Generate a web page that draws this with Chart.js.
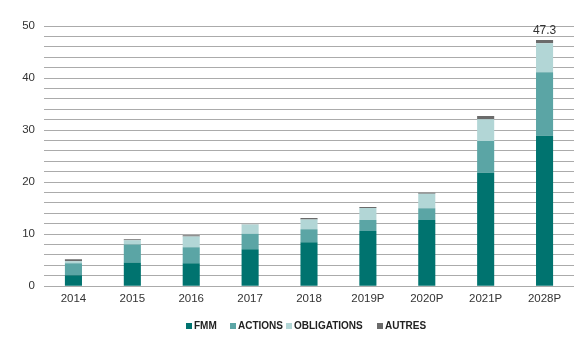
<!DOCTYPE html>
<html>
<head>
<meta charset="utf-8">
<script src="https://cdn.jsdelivr.net/npm/chart.js@4"></script>
<style>
  html, body { margin: 0; padding: 0; background: #fff; }
  #wrap { width: 579px; height: 339px; }
</style>
</head>
<body>
<div id="wrap"><canvas id="chart"></canvas></div>
<script>
const categories = ['2014', '2015', '2016', '2017', '2018', '2019P', '2020P', '2021P', '2028P'];
const fmm = [2.1, 4.55, 4.4, 7.1, 8.45, 10.6, 12.7, 21.8, 28.9];
const actions = [2.3, 3.45, 3.1, 3.0, 2.5, 2.1, 2.3, 6.1, 12.2];
const obligations = [0.4, 0.85, 2.05, 1.75, 1.85, 2.35, 2.75, 4.2, 5.6];
const autres = [0.4, 0.15, 0.25, 0.05, 0.3, 0.15, 0.2, 0.6, 0.6];
// only the last bar carries its total
const labelledIndex = 8;

const FONT = "'Liberation Sans', Arial, sans-serif";

// legend entries sit at fixed x positions under the plot
const legendX = [186, 230, 286, 377];
const legendY = 326;

const totalLabel = {
  id: 'totalLabel',
  afterDatasetsDraw(chart) {
    const { ctx } = chart;
    const total = chart.data.datasets.reduce((s, d) => s + d.data[labelledIndex], 0);
    const meta = chart.getDatasetMeta(chart.data.datasets.length - 1);
    const bar = meta.data[labelledIndex];
    ctx.save();
    ctx.font = `12px ${FONT}`;
    ctx.fillStyle = '#333';
    ctx.textAlign = 'center';
    ctx.textBaseline = 'bottom';
    ctx.fillText(total.toFixed(1), bar.x, bar.y - 3);
    ctx.restore();
  }
};

const fixedLegend = {
  id: 'fixedLegend',
  afterDraw(chart) {
    const { ctx } = chart;
    ctx.save();
    ctx.font = `bold 10px ${FONT}`;
    ctx.textBaseline = 'middle';
    chart.data.datasets.forEach((d, i) => {
      const x = legendX[i];
      ctx.fillStyle = d.backgroundColor;
      ctx.fillRect(x, legendY - 3, 6, 6);
      ctx.fillStyle = '#222';
      ctx.fillText(d.label, x + 8, legendY);
    });
    ctx.restore();
  }
};

const ds = (label, data, color) => ({
  label, data, backgroundColor: color, borderWidth: 0,
  barPercentage: 0.29, categoryPercentage: 1
});

new Chart(document.getElementById('chart'), {
  type: 'bar',
  data: {
    labels: categories,
    datasets: [
      ds('FMM', fmm, '#00736f'),
      ds('ACTIONS', actions, '#5ba5a5'),
      ds('OBLIGATIONS', obligations, '#b2d6d6'),
      ds('AUTRES', autres, '#6b6b6b')
    ]
  },
  options: {
    responsive: true,
    maintainAspectRatio: false,
    animation: false,
    layout: { padding: { top: 26, right: 5, left: 0, bottom: 27 } },
    plugins: {
      tooltip: { enabled: false },
      legend: { display: false }
    },
    scales: {
      x: {
        stacked: true,
        grid: { display: false, drawTicks: false },
        border: { display: false },
        ticks: { color: '#333', font: { family: FONT, size: 11.5 }, padding: 6 }
      },
      y: {
        stacked: true,
        min: 0, max: 50,
        afterFit(scale) { scale.width = 44; },
        border: { display: false },
        grid: { color: '#ababab', lineWidth: 1, drawTicks: false },
        ticks: {
          stepSize: 2,
          autoSkip: false,
          color: '#333',
          font: { family: FONT, size: 11.5 },
          padding: 9,
          callback: v => (v % 10 === 0 ? v : '')
        }
      }
    }
  },
  plugins: [totalLabel, fixedLegend]
});
</script>
</body>
</html>
